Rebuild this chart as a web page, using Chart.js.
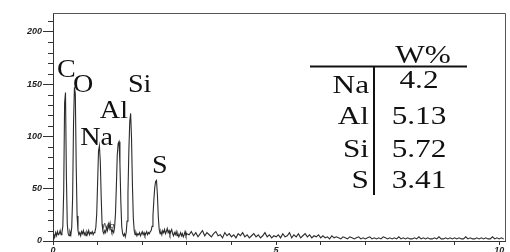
<!DOCTYPE html>
<html>
<head>
<meta charset="utf-8">
<script src="https://cdn.jsdelivr.net/npm/chart.js@4"></script>
<style>
  html, body { margin: 0; padding: 0; background: #fff; }
  #wrap { width: 510px; height: 252px; }
</style>
</head>
<body>
<div id="wrap"><canvas id="chart"></canvas></div>
<script>
// EDS spectrum, counts
const lowStart = 0;      // keV, first channel of the fine part
const lowStep = 0.02;    // keV per channel
const lowCounts = [
  2, 6, 4, 8, 5, 9, 6, 7, 10, 6,
  8, 14, 48, 132, 142, 62, 16, 7, 5, 9,
  6, 13, 42, 112, 147, 141, 72, 24, 10, 6,
  8, 5, 9, 7, 10, 6, 8, 5, 9, 7,
  10, 6, 8, 7, 9, 6, 8, 9, 13, 26,
  56, 86, 91, 76, 42, 16, 9, 7, 10, 8,
  13, 10, 16, 12, 17, 11, 8, 10, 8, 13,
  26, 52, 82, 93, 95, 74, 38, 14, 7, 5,
  7, 4, 8, 19, 46, 86, 114, 122, 98, 54,
  22, 10, 6, 8, 5, 7, 6, 8, 5, 7,
  9, 6, 8, 5, 7, 9, 6, 8, 7, 9,
  10, 14, 24, 39, 51, 57, 58, 44, 23, 11,
  7, 9, 6, 10, 8, 11, 7, 9, 12, 8,
  10, 6, 9, 11, 7, 5, 8, 6, 9, 5,
  7, 4, 6, 8, 5, 7, 4, 6, 9, 5,
  7
];
const highStart = 3.05;
const highStep = 0.05;
const highCounts = [
  6, 9, 5, 8, 4, 7, 10, 5, 8, 6,
  4, 7, 9, 5, 6, 3, 8, 5, 7, 4,
  6, 3, 7, 5, 8, 4, 6, 3, 5, 7,
  4, 6, 3, 5, 8, 4, 6, 3, 5, 4,
  6, 3, 7, 4, 5, 8, 3, 6, 4, 7,
  3, 5, 7, 4, 6, 3, 5, 4, 6, 3,
  5, 3, 4, 2, 5, 3, 4, 3, 2, 4,
  3, 2, 4, 3, 2, 3, 4, 2, 3, 2,
  3, 4, 2, 3, 2, 3, 2, 4, 3, 2,
  3, 2, 3, 2, 4, 2, 3, 2, 3, 2,
  2, 3, 2, 4, 2, 3, 2, 3, 2, 2,
  3, 2, 4, 2, 2, 3, 2, 3, 2, 3,
  2, 3, 2, 2, 4, 2, 3, 2, 2, 3,
  2, 3, 2, 3, 2, 2, 4, 2, 3, 2,
  3, 2
];

const xTickLabels = [0, 5, 10];
const yTickLabels = [0, 50, 100, 150, 200];

const peakNames = ['C', 'O', 'Na', 'Al', 'Si', 'S'];
const peakLabelAt = [[0.09, 157], [0.45, 142], [0.61, 92], [1.05, 117.5], [1.68, 142], [2.22, 65]];
const minorPeakName = 'Mg';
const minorPeakAt = [1.12, 12.4];

const tableHeader = 'W%';
const tableElements = ['Na', 'Al', 'Si', 'S'];
const tableWeights = ['4.2', '5.13', '5.72', '3.41'];

function toPoints(start, step, counts) {
  return counts.map((c, i) => ({ x: +(start + i * step).toFixed(2), y: c }));
}
const spectrum = toPoints(lowStart, lowStep, lowCounts).concat(toPoints(highStart, highStep, highCounts));

function stretchedText(ctx, text, x, y, sx, align) {
  ctx.save();
  ctx.translate(x, y);
  ctx.scale(sx, 1);
  ctx.textAlign = align;
  ctx.fillText(text, 0, 0);
  ctx.restore();
}

const decor = {
  id: 'decor',
  afterDraw(chart) {
    const ctx = chart.ctx;
    const area = chart.chartArea;
    const xs = chart.scales.x;
    const ys = chart.scales.y;

    ctx.save();
    // frame top and right
    ctx.strokeStyle = '#555';
    ctx.lineWidth = 1;
    ctx.beginPath();
    ctx.moveTo(area.left, area.top + 0.5);
    ctx.lineTo(area.right + 0.5, area.top + 0.5);
    ctx.lineTo(area.right + 0.5, area.bottom);
    ctx.stroke();

    // minor ticks on y
    ctx.strokeStyle = '#333';
    ctx.beginPath();
    ys.ticks.forEach(t => {
      if (t.value % 50 !== 0) {
        const py = Math.round(ys.getPixelForValue(t.value)) + 0.5;
        ctx.moveTo(area.left - 5, py);
        ctx.lineTo(area.left, py);
      }
    });
    ctx.stroke();

    // peak labels
    ctx.fillStyle = '#111';
    ctx.textBaseline = 'alphabetic';
    ctx.font = '26px "Liberation Serif"';
    peakNames.forEach((name, i) => {
      const p = peakLabelAt[i];
      stretchedText(ctx, name, xs.getPixelForValue(p[0]), ys.getPixelForValue(p[1]), 1.08, 'left');
    });
    ctx.font = 'italic 8px "Liberation Sans"';
    ctx.fillStyle = '#333';
    stretchedText(ctx, minorPeakName, xs.getPixelForValue(minorPeakAt[0]), ys.getPixelForValue(minorPeakAt[1]), 1, 'left');

    // composition table
    ctx.fillStyle = '#111';
    ctx.strokeStyle = '#111';
    ctx.lineWidth = 2;
    ctx.beginPath();
    ctx.moveTo(310, 66.5);
    ctx.lineTo(467, 66.5);
    ctx.moveTo(374, 66);
    ctx.lineTo(374, 195);
    ctx.stroke();
    ctx.font = '25px "Liberation Serif"';
    stretchedText(ctx, tableHeader, 423, 63, 1.25, 'center');
    const rowBase = [93, 124, 157, 188];
    const valBase = [88, 124, 157, 188];
    tableElements.forEach((el, i) => {
      stretchedText(ctx, el, 369, rowBase[i], 1.25, 'right');
      stretchedText(ctx, tableWeights[i], 419, valBase[i], 1.25, 'center');
    });
    ctx.restore();
  }
};

new Chart(document.getElementById('chart'), {
  type: 'line',
  data: {
    datasets: [{
      data: spectrum,
      borderColor: '#2b2b2b',
      borderWidth: 1.1,
      pointRadius: 0,
      tension: 0,
      fill: false
    }]
  },
  options: {
    responsive: true,
    maintainAspectRatio: false,
    animation: false,
    layout: { padding: { top: 13, right: 5, left: 0, bottom: 0 } },
    plugins: { legend: { display: false }, tooltip: { enabled: false } },
    scales: {
      x: {
        type: 'linear',
        min: 0,
        max: 10.13,
        afterFit: s => { s.height = 11; },
        border: { color: '#333', width: 1 },
        grid: { drawOnChartArea: false, tickLength: 4, tickColor: '#333' },
        ticks: {
          stepSize: 1,
          includeBounds: false,
          autoSkip: false,
          maxRotation: 0,
          padding: 0,
          color: '#222',
          font: { family: 'Liberation Sans', size: 9, style: 'italic', weight: 'bold' },
          callback: v => xTickLabels.includes(v) ? String(v) : ''
        }
      },
      y: {
        min: 0,
        max: 218,
        afterFit: s => { s.width = 53; },
        border: { color: '#333', width: 1 },
        grid: {
          drawOnChartArea: false,
          tickLength: 10,
          tickColor: c => (c.tick && c.tick.value % 50 === 0) ? '#333' : 'rgba(0,0,0,0)'
        },
        ticks: {
          stepSize: 10,
          includeBounds: false,
          autoSkip: false,
          padding: 1,
          color: '#222',
          font: { family: 'Liberation Sans', size: 9, style: 'italic', weight: 'bold' },
          callback: v => yTickLabels.includes(v) ? String(v) : ''
        }
      }
    }
  },
  plugins: [decor]
});
</script>
</body>
</html>
